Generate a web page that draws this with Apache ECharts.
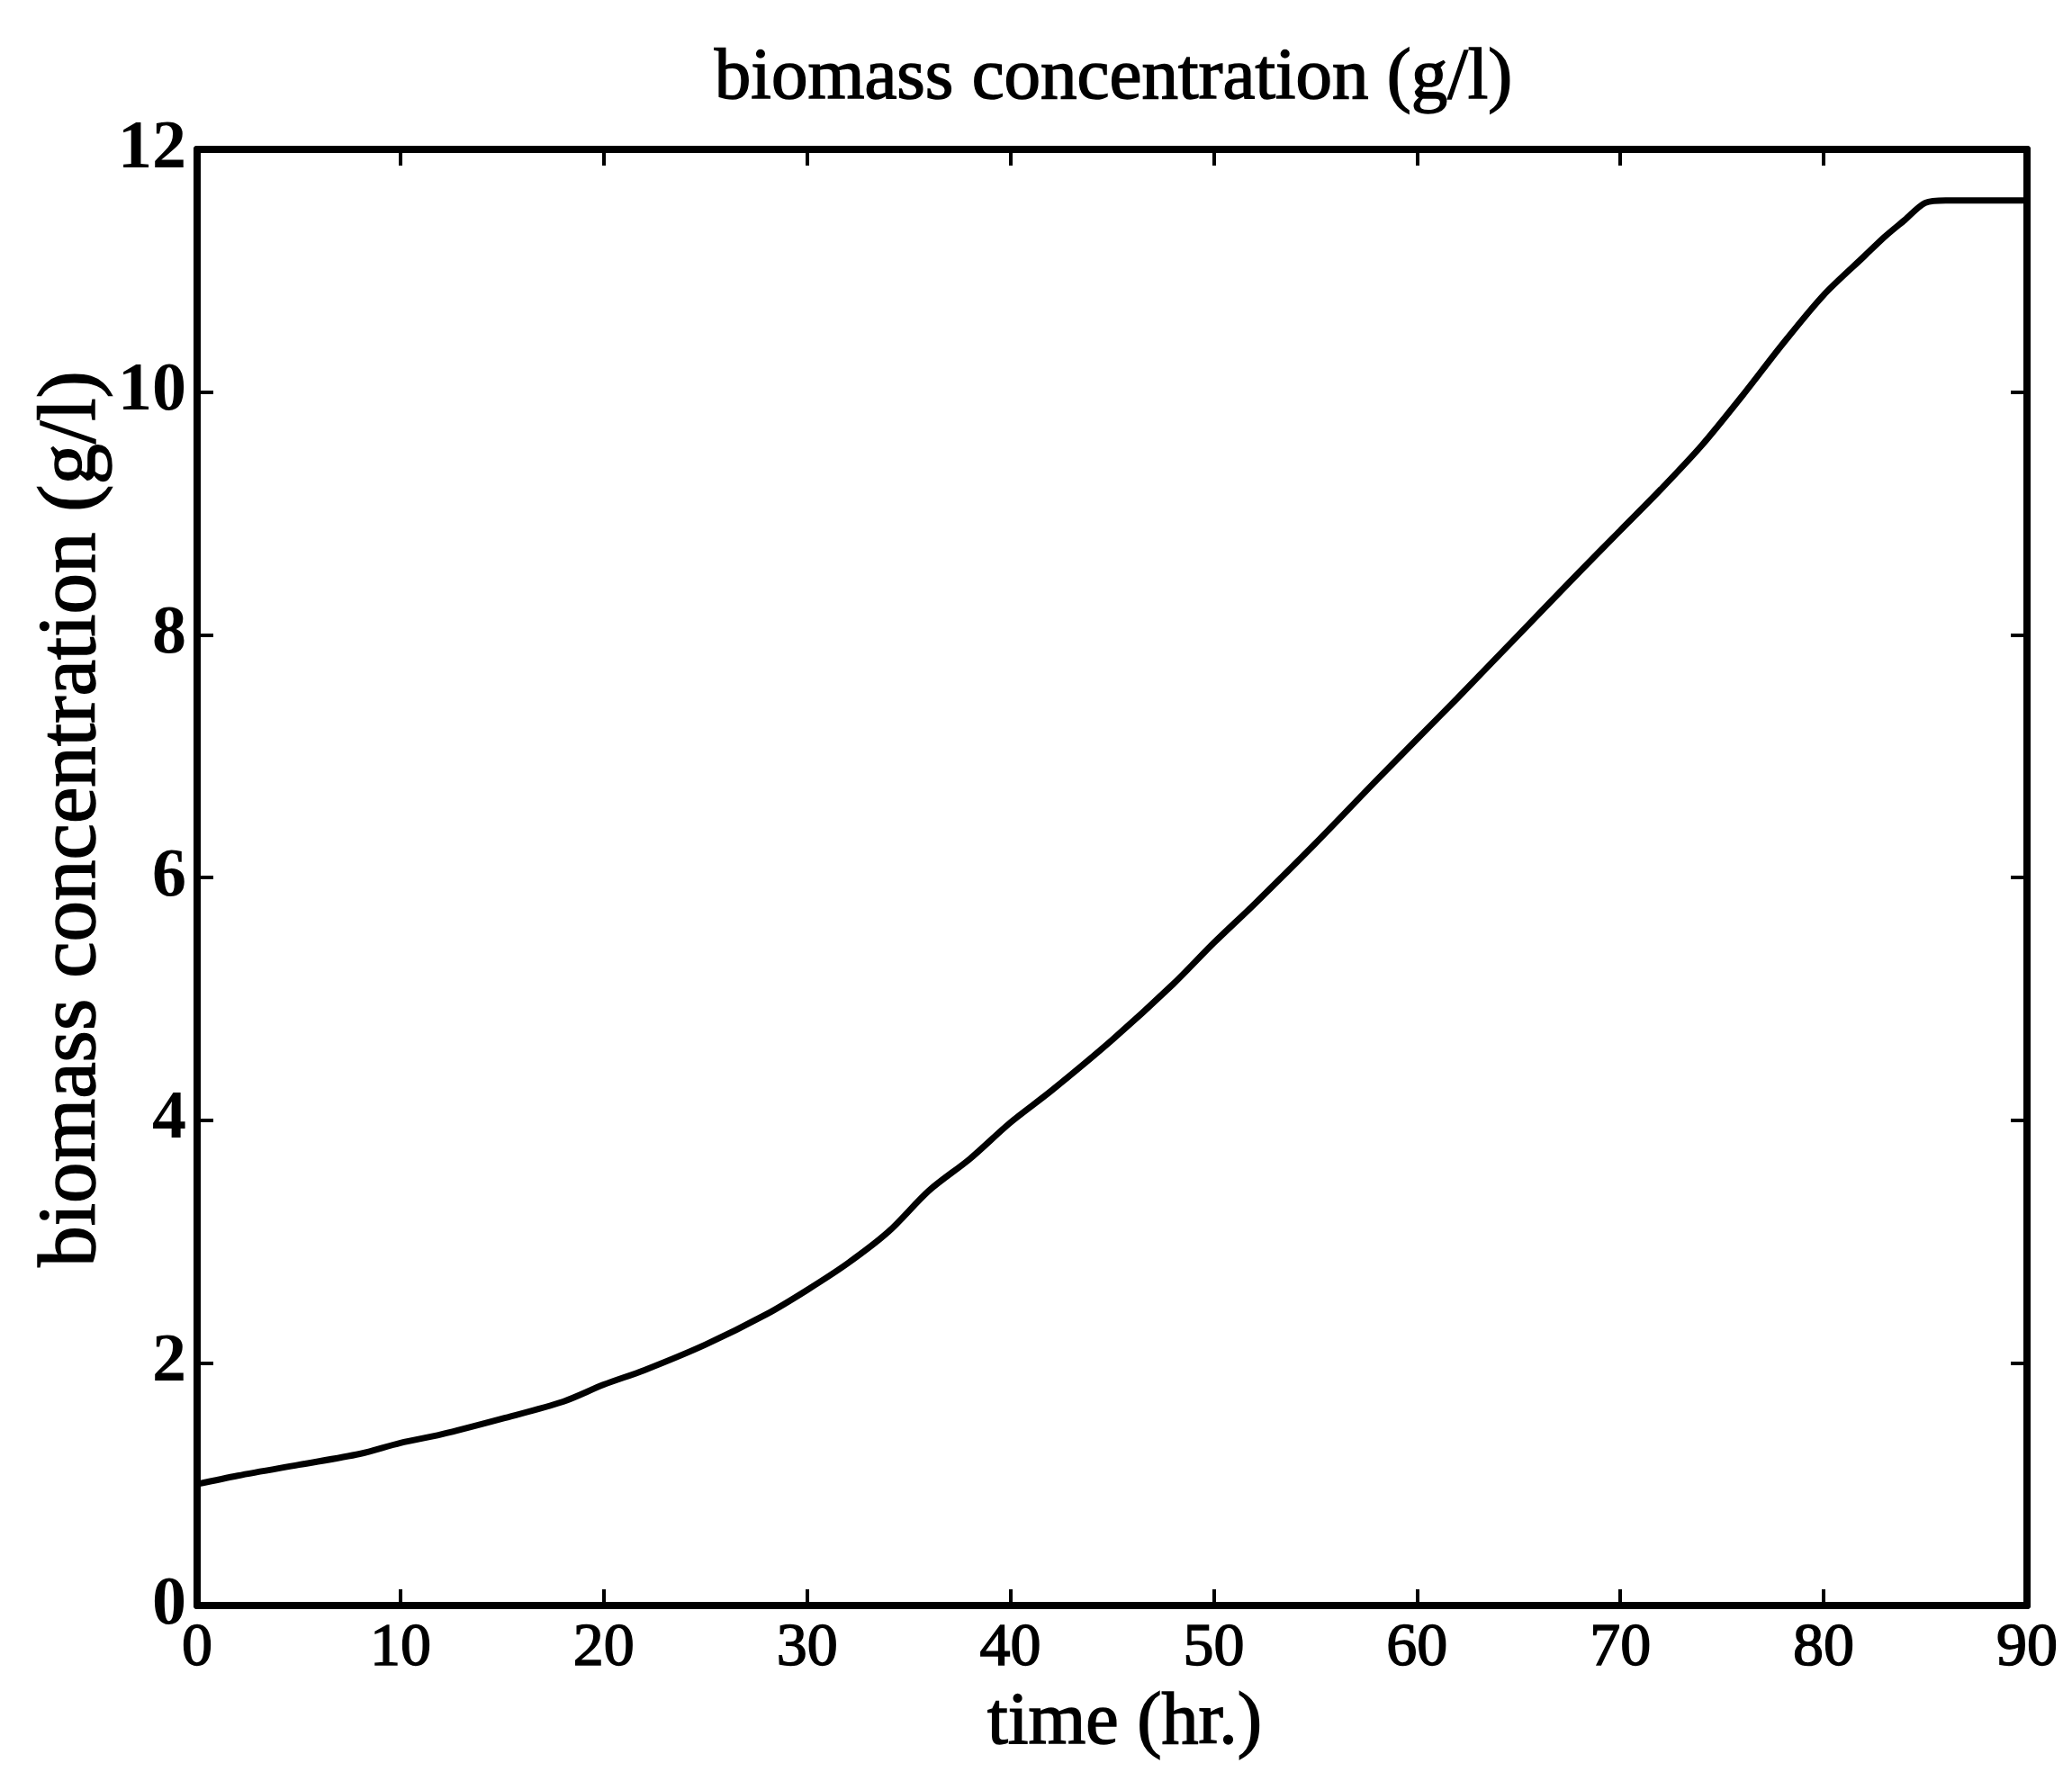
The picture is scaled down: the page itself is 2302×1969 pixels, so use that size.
<!DOCTYPE html>
<html>
<head>
<meta charset="utf-8">
<script src="https://cdn.jsdelivr.net/npm/echarts@6/dist/echarts.min.js"></script>
<style>html,body{margin:0;padding:0;background:#fff}#c{width:2302px;height:1969px}</style>
</head>
<body>
<div id="c"></div>
<script>
const timeHr = [0, 2, 5, 8, 10, 12, 15, 18, 20, 22, 25, 28, 30, 32, 34, 36, 38, 40, 42, 45, 48, 50, 52, 55, 58, 60, 62, 65, 68, 70, 72, 74, 76, 78, 80, 82, 83, 84, 85, 86, 90];
const biomass = [1.00, 1.07, 1.16, 1.25, 1.34, 1.41, 1.54, 1.68, 1.82, 1.94, 2.15, 2.40, 2.60, 2.82, 3.08, 3.42, 3.68, 3.98, 4.24, 4.66, 5.12, 5.46, 5.78, 6.28, 6.80, 7.14, 7.48, 8.00, 8.52, 8.86, 9.20, 9.56, 9.97, 10.40, 10.80, 11.12, 11.28, 11.42, 11.56, 11.58, 11.58];
const xTicks = [0, 10, 20, 30, 40, 50, 60, 70, 80, 90];
const yTicks = [0, 2, 4, 6, 8, 10, 12];
const titleText = 'biomass concentration (g/l)';
const xName = 'time (hr.)';
const yName = 'biomass concentration (g/l)';

const data = timeHr.map((t, i) => [t, biomass[i]]);
const font = '"Liberation Serif", "Times New Roman", serif';
const chart = echarts.init(document.getElementById('c'), null, {renderer: 'canvas'});
const lineStyle = {color: '#000', width: 8};
const tickStyle = {show: true, inside: true, length: 18, lineStyle: {color: '#000', width: 4}};
const heavy = {textBorderColor: '#000', textBorderWidth: 1.5};
chart.setOption({
  backgroundColor: '#fff',
  animation: false,
  title: {
    text: titleText, left: 1232, top: 42, textAlign: 'center',
    textStyle: Object.assign({fontFamily: font, fontSize: 81, fontWeight: 'normal', color: '#000'}, heavy)
  },
  grid: {left: 219, right: 50, top: 166, bottom: 185, containLabel: false},
  xAxis: [{
    type: 'value', min: xTicks[0], max: xTicks[xTicks.length - 1], interval: 10,
    position: 'bottom',
    name: xName, nameLocation: 'middle', nameGap: 90,
    nameTextStyle: Object.assign({fontFamily: font, fontSize: 82, color: '#000', padding: [0, 0, 0, 28]}, heavy),
    axisLine: {show: true, onZero: false, lineStyle},
    axisTick: tickStyle,
    axisLabel: Object.assign({fontFamily: font, fontSize: 68, color: '#000', margin: 14, formatter: v => String(v)}, heavy),
    splitLine: {show: false}
  }, {
    type: 'value', min: xTicks[0], max: xTicks[xTicks.length - 1], interval: 10,
    position: 'top',
    axisLine: {show: true, onZero: false, lineStyle},
    axisTick: tickStyle,
    axisLabel: {show: false},
    splitLine: {show: false}
  }],
  yAxis: [{
    type: 'value', min: yTicks[0], max: yTicks[yTicks.length - 1], interval: 2,
    position: 'left',
    name: yName, nameLocation: 'middle', nameGap: 92, nameRotate: 90, nameMoveOverlap: false,
    nameTextStyle: Object.assign({fontFamily: font, fontSize: 91, color: '#000', padding: [0, 0, 0, 130]}, heavy),
    axisLine: {show: true, onZero: false, lineStyle},
    axisTick: tickStyle,
    axisLabel: {fontFamily: font, fontSize: 76, fontWeight: 'bold', color: '#000', margin: 12},
    splitLine: {show: false}
  }, {
    type: 'value', min: yTicks[0], max: yTicks[yTicks.length - 1], interval: 2,
    position: 'right',
    axisLine: {show: true, onZero: false, lineStyle},
    axisTick: tickStyle,
    axisLabel: {show: false},
    splitLine: {show: false}
  }],
  series: [{
    type: 'line', data: data, xAxisIndex: 0, yAxisIndex: 0,
    showSymbol: false, smooth: 0.3,
    lineStyle: {color: '#000', width: 7}
  }]
});
</script>
</body>
</html>
